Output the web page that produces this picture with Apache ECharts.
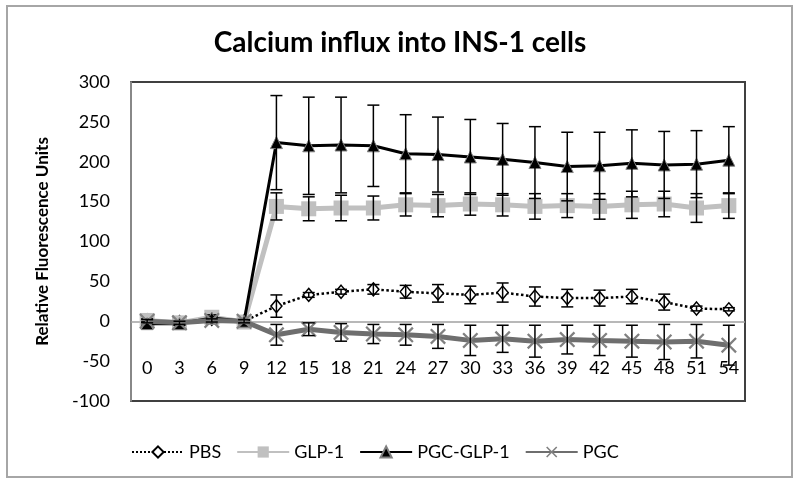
<!DOCTYPE html>
<html>
<head>
<meta charset="utf-8">
<script src="https://cdn.jsdelivr.net/npm/echarts@6/dist/echarts.min.js"></script>
<style>
  html, body { margin: 0; padding: 0; background: #fff; }
  #chart { width: 800px; height: 485px; }
</style>
</head>
<body>
<div id="chart"></div>
<script>
// time points (s)
const timePoints = ['0', '3', '6', '9', '12', '15', '18', '21', '24', '27', '30', '33', '36', '39', '42', '45', '48', '51', '54']

const pbs = [1, -1, 3, 0, 19, 33, 37, 40, 37, 35, 33, 36, 31, 29, 29, 31, 24, 16, 15]
const pbsErr = [0, 0, 0, 0, 14, 3, 3, 6, 8, 11, 11, 12, 12, 11, 10, 9, 10, 3, 2]

const glp1 = [1, -2, 5, -1, 144, 141, 142, 142, 146, 145, 147, 146, 144, 145, 144, 146, 147, 142, 145]
const glp1Err = [2, 2, 3, 2, 17, 15, 16, 15, 14, 14, 14, 14, 16, 15, 16, 17, 16, 18, 16]

const pgcGlp1 = [-3, -3, 4, 0, 224, 220, 221, 220, 210, 209, 206, 203, 199, 194, 195, 198, 196, 197, 202]
const pgcGlp1Err = [2, 2, 2, 2, 59, 61, 60, 51, 49, 47, 47, 45, 45, 43, 42, 42, 42, 42, 42]

const pgc = [0, -2, 1, 0, -17, -10, -14, -16, -17, -19, -24, -22, -25, -23, -24, -25, -26, -25, -30]
const pgcErr = [2, 2, 2, 2, 13, 8, 11, 12, 13, 15, 19, 17, 20, 18, 19, 20, 22, 21, 25]

const yTicks = { min: -100, max: 300, step: 50 }

const FONT = 'Lato, "Open Sans", sans-serif'

function errData(vals, errs) {
  return vals.map((v, i) => [i, v - errs[i], v + errs[i]])
}

function errSeries(vals, errs, z) {
  return {
    type: 'custom',
    silent: true,
    z: z,
    data: errData(vals, errs),
    encode: { x: 0, y: [1, 2] },
    renderItem: function (params, api) {
      const lo = api.coord([api.value(0), api.value(1)])
      const hi = api.coord([api.value(0), api.value(2)])
      const w = 6
      const st = { stroke: '#000', lineWidth: 1.5 }
      return {
        type: 'group',
        children: [
          { type: 'line', shape: { x1: hi[0], y1: hi[1], x2: lo[0], y2: lo[1] }, style: st },
          { type: 'line', shape: { x1: hi[0] - w, y1: hi[1], x2: hi[0] + w, y2: hi[1] }, style: st },
          { type: 'line', shape: { x1: lo[0] - w, y1: lo[1], x2: lo[0] + w, y2: lo[1] }, style: st }
        ]
      }
    }
  }
}

const xMark = 'path://M0,1L1,0L5,4L9,0L10,1L6,5L10,9L9,10L5,6L1,10L0,9L4,5Z'

const chart = echarts.init(document.getElementById('chart'))
chart.setOption({
  animation: false,
  backgroundColor: '#fff',
  title: {
    text: 'Calcium influx into INS-1 cells',
    left: 'center',
    top: 24,
    textStyle: { fontFamily: FONT, fontSize: 28, fontWeight: 'bold', color: '#000' }
  },
  graphic: [{
    type: 'rect',
    shape: { x: 7, y: 6, width: 785, height: 471 },
    style: { fill: 'none', stroke: '#a6a6a6', lineWidth: 2 },
    silent: true
  }],
  legend: {
    data: ['PBS', 'GLP-1', 'PGC-GLP-1', 'PGC'],
    left: 126,
    top: 438,
    itemWidth: 52,
    itemHeight: 14,
    itemGap: 15,
    textStyle: { fontFamily: FONT, fontSize: 18, color: '#000' }
  },
  grid: {
    left: 131, top: 82, right: 55, bottom: 84,
    show: true, borderColor: '#404040', borderWidth: 2, backgroundColor: 'transparent'
  },
  xAxis: {
    type: 'category',
    data: timePoints,
    boundaryGap: true,
    offset: -81,
    axisLine: { show: false, onZero: false },
    axisTick: { show: false },
    axisLabel: { margin: 39, fontFamily: FONT, fontSize: 18, color: '#000', interval: 0 },
    splitLine: { show: false }
  },
  yAxis: {
    type: 'value',
    min: yTicks.min,
    max: yTicks.max,
    interval: yTicks.step,
    name: 'Relative Fluorescence Units',
    nameLocation: 'middle',
    nameGap: 80,
    nameTextStyle: { fontFamily: FONT, fontSize: 17, fontWeight: 'bold', color: '#000' },
    axisLine: { show: true, lineStyle: { color: '#a0a0a0', width: 1.5 } },
    axisTick: { show: false },
    splitLine: { show: false },
    axisLabel: { margin: 21, fontFamily: FONT, fontSize: 18, color: '#000' }
  },
  series: [
    {
      name: 'PBS', type: 'line', data: pbs, z: 2,
      symbol: 'diamond', symbolSize: [11, 13],
      lineStyle: { color: '#000', width: 2.5, type: 'dotted' },
      itemStyle: { color: '#fff', borderColor: '#000', borderWidth: 1.5 },
      markLine: {
        silent: true, symbol: 'none', label: { show: false }, z: 1,
        lineStyle: { color: '#a0a0a0', width: 1.5, type: 'solid' },
        data: [{ yAxis: 0 }]
      }
    },
    errSeries(pbs, pbsErr, 3),
    {
      name: 'GLP-1', type: 'line', data: glp1, z: 4,
      symbol: 'rect', symbolSize: 15,
      lineStyle: { color: '#c0c0c0', width: 5 },
      itemStyle: { color: '#c0c0c0', borderWidth: 0 }
    },
    errSeries(glp1, glp1Err, 5),
    {
      name: 'PGC-GLP-1', type: 'line', data: pgcGlp1, z: 6,
      symbol: 'triangle', symbolSize: 12,
      lineStyle: { color: '#000', width: 3 },
      itemStyle: { color: '#000', borderColor: '#808080', borderWidth: 1 }
    },
    errSeries(pgcGlp1, pgcGlp1Err, 7),
    {
      name: 'PGC', type: 'line', data: pgc, z: 8,
      symbol: xMark, symbolSize: 16,
      lineStyle: { color: '#6e6e6e', width: 5 },
      itemStyle: { color: '#808080', borderWidth: 0 }
    },
    errSeries(pgc, pgcErr, 9)
  ]
})
</script>
</body>
</html>
